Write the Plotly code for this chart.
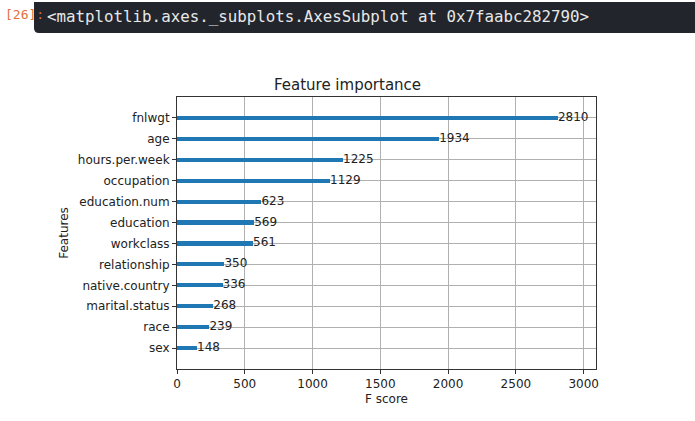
import plotly.graph_objects as go

features = ["sex", "race", "marital.status", "native.country", "relationship",
            "workclass", "education", "education.num", "occupation",
            "hours.per.week", "age", "fnlwgt"]
scores = [148, 239, 268, 336, 350, 561, 569, 623, 1129, 1225, 1934, 2810]
x_ticks = [0, 500, 1000, 1500, 2000, 2500, 3000]

positions = list(range(len(features)))

W, H = 695, 421
L, R, T, B = 177, 99, 97, 52
pw, ph = W - L - R, H - T - B

def px(x):
    return (x - L) / pw

def py(y):
    return (H - B - y) / ph

fig = go.Figure()
fig.add_trace(go.Bar(
    x=scores, y=positions, orientation="h", width=0.2,
    marker=dict(color="#1f77b4", line=dict(width=0)),
    hoverinfo="skip", showlegend=False,
))
fig.add_trace(go.Scatter(
    x=scores, y=positions, mode="text",
    text=[str(s) for s in scores], textposition="middle right",
    textfont=dict(family="DejaVu Sans", size=12, color="#222222"),
    hoverinfo="skip", showlegend=False, cliponaxis=False,
))

# notebook output bar (dark box, rounded bottom corners)
x0, x1, y0, y1, r = 34, 700, 2, 33, 5
path = (f"M {px(x0)},{py(y0)} L {px(x1)},{py(y0)} L {px(x1)},{py(y1)} "
        f"L {px(x0 + r)},{py(y1)} Q {px(x0)},{py(y1)} {px(x0)},{py(y1 - r)} Z")
fig.add_shape(type="path", path=path, xref="paper", yref="paper",
              fillcolor="#22252b", line=dict(width=0), layer="above")

fig.add_annotation(x=px(45), y=py(17), xref="paper", yref="paper",
                   text="&lt;matplotlib.axes._subplots.AxesSubplot at 0x7faabc282790&gt;",
                   showarrow=False, xanchor="left", yanchor="middle",
                   font=dict(family="DejaVu Sans Mono", size=15.8, color="#e8e8e8"))
fig.add_annotation(x=px(3), y=py(15), xref="paper", yref="paper",
                   text="[26]:", showarrow=False, xanchor="left", yanchor="middle",
                   font=dict(family="DejaVu Sans Mono", size=13, color="#e0703c"))

fig.update_layout(
    width=W, height=H,
    margin=dict(l=L, r=R, t=T, b=B, pad=0),
    paper_bgcolor="white", plot_bgcolor="white",
    font=dict(family="DejaVu Sans", size=12, color="#222222"),
    title=dict(text="Feature importance", x=px(386.5), xanchor="center",
               y=1 - 85 / H, yanchor="middle",
               font=dict(family="DejaVu Sans", size=15, color="#222222")),
    bargap=0,
)
fig.update_xaxes(
    range=[0, max(scores) * 1.1], tickvals=x_ticks,
    showgrid=True, gridcolor="#b0b0b0", gridwidth=1,
    showline=True, linecolor="#333333", linewidth=1, mirror=True,
    ticks="outside", ticklen=4, tickcolor="#333333",
    zeroline=False,
    title=dict(text="F score", font=dict(size=12), standoff=4),
)
fig.update_yaxes(
    range=[-1, len(features)], tickvals=positions, ticktext=features,
    showgrid=True, gridcolor="#b0b0b0", gridwidth=1,
    showline=True, linecolor="#333333", linewidth=1, mirror=True,
    ticks="outside", ticklen=4, tickcolor="#333333",
    zeroline=False,
    title=dict(text="Features", font=dict(size=12), standoff=6),
)

fig.write_html("out.html", config={"displayModeBar": False},
               post_script="document.body.style.margin='0';document.body.style.overflow='hidden';")
